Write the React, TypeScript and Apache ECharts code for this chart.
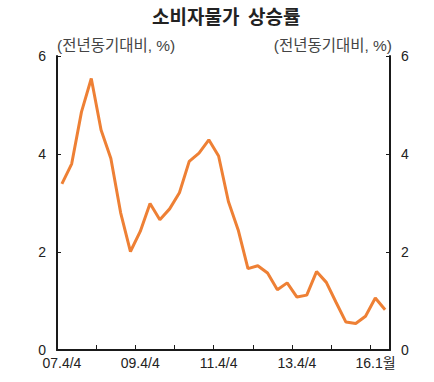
import React, { useEffect, useRef } from "react";
import * as echarts from "echarts";

const categories: string[] = [
  "07.4/4",
  "08.1/4", "08.2/4", "08.3/4", "08.4/4",
  "09.1/4", "09.2/4", "09.3/4", "09.4/4",
  "10.1/4", "10.2/4", "10.3/4", "10.4/4",
  "11.1/4", "11.2/4", "11.3/4", "11.4/4",
  "12.1/4", "12.2/4", "12.3/4", "12.4/4",
  "13.1/4", "13.2/4", "13.3/4", "13.4/4",
  "14.1/4", "14.2/4", "14.3/4", "14.4/4",
  "15.1/4", "15.2/4", "15.3/4", "15.4/4",
  "16.1월",
];

const cpiValues: number[] = [
  3.39, 3.8, 4.86, 5.54, 4.49, 3.91, 2.8, 2.01, 2.42, 2.99,
  2.66, 2.88, 3.21, 3.85, 4.02, 4.29, 3.96, 3.03, 2.45, 1.66,
  1.72, 1.57, 1.23, 1.37, 1.08, 1.12, 1.6, 1.38, 0.97, 0.57,
  0.54, 0.69, 1.06, 0.82,
];

const shownLabelIndices: number[] = [0, 8, 16, 24, 33];
const yTicks = { min: 0, max: 6, interval: 2 };

const titleText = "소비자물가  상승률";
const axisNameText = "(전년동기대비, %)";

const FONT = "'Liberation Sans', Arial, 'Noto Sans CJK KR', sans-serif";

export default function App() {
  const ref = useRef<HTMLDivElement>(null);

  useEffect(() => {
    document.body.style.margin = "0";
    if (!ref.current) return;
    const chart = echarts.init(ref.current, undefined, { renderer: "svg" });
    const axisLine = { show: true, lineStyle: { color: "#1a1a1a", width: 2 } };
    const yCommon = {
      type: "value" as const,
      min: yTicks.min,
      max: yTicks.max,
      interval: yTicks.interval,
      axisLine,
      axisTick: { show: true, inside: true, length: 4, lineStyle: { color: "#1a1a1a", width: 1 } },
      splitLine: { show: false },
      axisLabel: { color: "#222", fontSize: 14, fontFamily: FONT, margin: 11 },
      name: axisNameText,
      nameLocation: "end" as const,
      nameGap: 3,
    };
    chart.setOption({
      animation: false,
      title: {
        text: titleText,
        left: 147,
        top: 1,
        textStyle: { fontSize: 19, fontWeight: "bold", color: "#222", fontFamily: "'Noto Sans CJK KR', sans-serif" },
      },
      grid: { left: 57, right: 44, top: 56, bottom: 32, containLabel: false },
      xAxis: {
        type: "category",
        data: categories,
        boundaryGap: true,
        axisLine,
        axisTick: {
          show: true,
          inside: true,
          length: 5,
          interval: 3,
          lineStyle: { color: "#1a1a1a", width: 1 },
        },
        axisLabel: {
          interval: (index: number) => shownLabelIndices.includes(index),
          color: "#222",
          fontSize: 14,
          fontFamily: FONT,
          margin: 6,
          formatter: (v: string, i: number) => (i === categories.length - 1 ? "{last|" + v + "}" : v),
          rich: {
            last: { padding: [0, 19, 0, 0], fontSize: 14, color: "#222", fontFamily: FONT },
          },
        },
        splitLine: { show: false },
      },
      yAxis: [
        {
          ...yCommon,
          position: "left",
          nameTextStyle: { align: "left", verticalAlign: "bottom", color: "#444", fontSize: 15.5, fontFamily: FONT },
        },
        {
          ...yCommon,
          position: "right",
          nameTextStyle: { align: "right", verticalAlign: "bottom", color: "#444", fontSize: 15.5, fontFamily: FONT, padding: [0, -2, 0, 0] },
        },
      ],
      series: [
        {
          type: "line",
          data: cpiValues,
          yAxisIndex: 0,
          symbol: "none",
          lineStyle: { color: "#EE8035", width: 3 },
          itemStyle: { color: "#EE8035" },
        },
      ],
    });
    return () => chart.dispose();
  }, []);

  return <div ref={ref} style={{ width: 434, height: 382 }} />;
}
